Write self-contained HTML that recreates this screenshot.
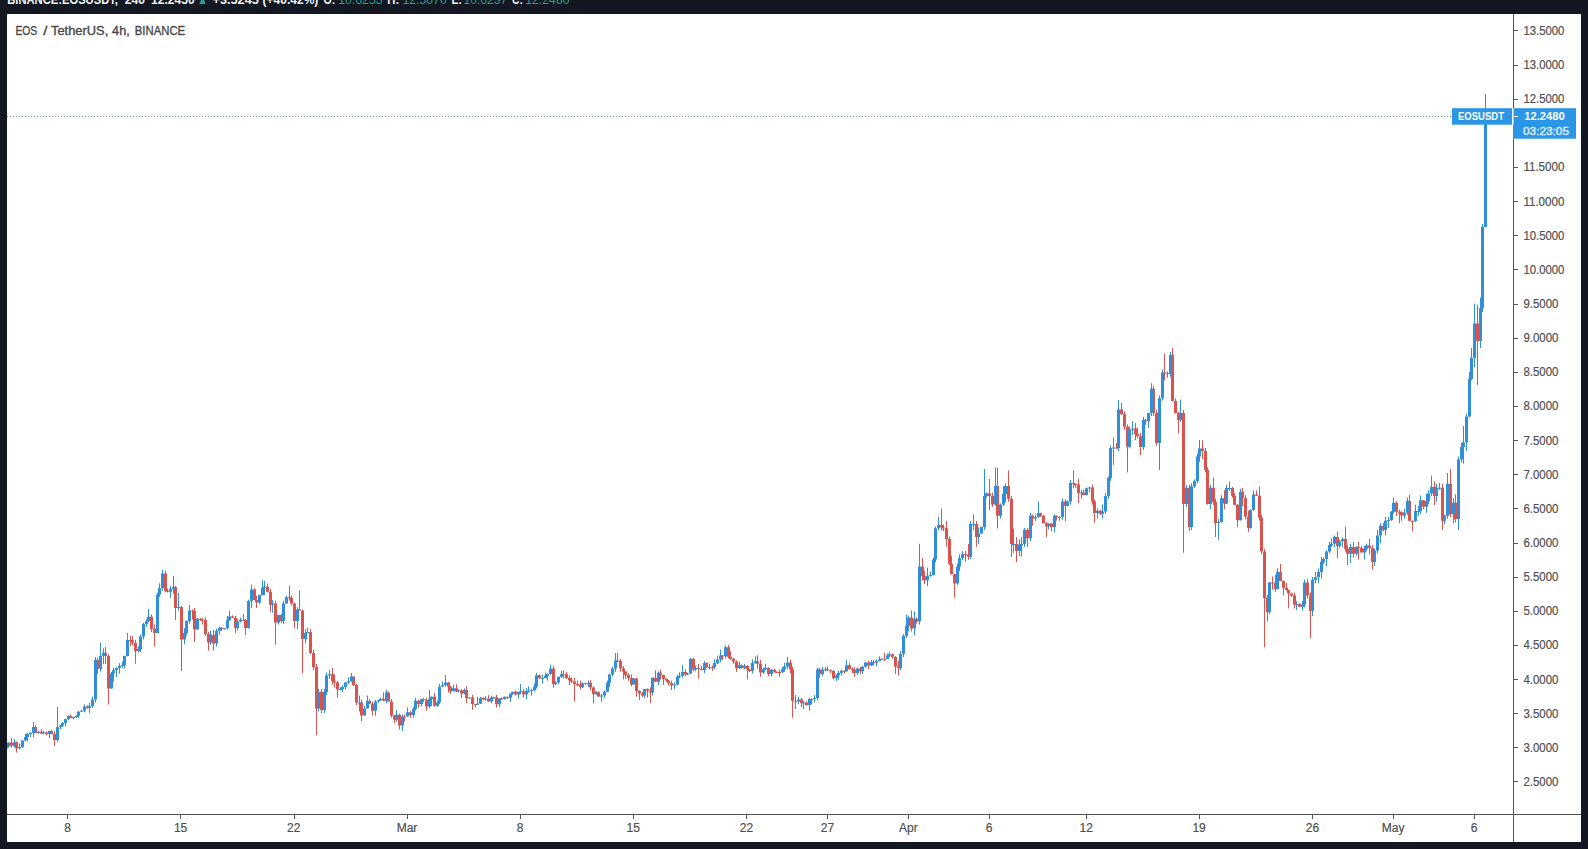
<!DOCTYPE html>
<html><head><meta charset="utf-8"><title>EOS / TetherUS, 4h, BINANCE</title>
<style>
html,body{margin:0;padding:0;background:#131722;width:1588px;height:849px;overflow:hidden}
svg{position:absolute;left:0;top:0;display:block}
text{font-family:"Liberation Sans",sans-serif}
.ax{font-size:12px;fill:#505050;stroke:#505050;stroke-width:0.2px}
.hd text{font-size:13px;font-weight:bold;fill:#f2f2f2}
.hd text.g{fill:#2f9c8e;font-weight:normal}
.ttl text{font-size:12px;fill:#4a4a4a;stroke:#4a4a4a;stroke-width:0.35px}
.lbl{font-size:11.8px;font-weight:bold;fill:#ffffff}
.tm{font-size:11.8px;fill:#dcecfa;stroke:#dcecfa;stroke-width:0.45px}
</style></head>
<body>
<svg width="1588" height="849" viewBox="0 0 1588 849">
<rect x="0" y="0" width="1588" height="849" fill="#131722"/>
<g class="hd">
<text x="7.2" y="4" textLength="110.8" lengthAdjust="spacingAndGlyphs">BINANCE:EOSUSDT,</text>
<text x="124.7" y="4" textLength="20.3" lengthAdjust="spacingAndGlyphs">240</text>
<text x="151" y="4" textLength="43.6" lengthAdjust="spacingAndGlyphs">12.2450</text>
<text x="197.2" y="4" class="g" textLength="10.6" lengthAdjust="spacingAndGlyphs">▲</text>
<text x="212.5" y="4" textLength="46.3" lengthAdjust="spacingAndGlyphs">+3.5245</text>
<text x="262.6" y="4" textLength="55.7" lengthAdjust="spacingAndGlyphs">(+40.42%)</text>
<text x="323.6" y="4" textLength="11.7" lengthAdjust="spacingAndGlyphs">O:</text>
<text x="338.2" y="4" class="g" textLength="44.4" lengthAdjust="spacingAndGlyphs">10.6255</text>
<text x="387.3" y="4" textLength="11.9" lengthAdjust="spacingAndGlyphs">H:</text>
<text x="402.4" y="4" class="g" textLength="44.4" lengthAdjust="spacingAndGlyphs">12.5070</text>
<text x="451.5" y="4" textLength="10.5" lengthAdjust="spacingAndGlyphs">L:</text>
<text x="463.4" y="4" class="g" textLength="43.9" lengthAdjust="spacingAndGlyphs">10.6237</text>
<text x="512" y="4" textLength="10.8" lengthAdjust="spacingAndGlyphs">C:</text>
<text x="525.2" y="4" class="g" textLength="44.4" lengthAdjust="spacingAndGlyphs">12.2480</text>
</g>
<rect x="7" y="14" width="1574" height="828" fill="#ffffff"/>
<g class="ttl">
<text x="15.4" y="34.6" textLength="21.8" lengthAdjust="spacingAndGlyphs">EOS</text>
<text x="43.2" y="34.6" textLength="4.2" lengthAdjust="spacingAndGlyphs">/</text>
<text x="51" y="34.6" textLength="57.3" lengthAdjust="spacingAndGlyphs">TetherUS,</text>
<text x="112.1" y="34.6" textLength="17.6" lengthAdjust="spacingAndGlyphs">4h,</text>
<text x="134.8" y="34.6" textLength="50.3" lengthAdjust="spacingAndGlyphs">BINANCE</text>
</g>
<!-- price line -->
<path d="M7 116.5H1452" stroke="#6b8aa6" stroke-width="1" stroke-dasharray="1 2" fill="none"/>
<!-- candles -->
<clipPath id="cp"><rect x="7" y="14" width="1506" height="800"/></clipPath>
<g clip-path="url(#cp)">
<path d="M11 738.0V747.7M16 741.4V752.6M35 725.2V733.5M41 729.1V734.1M46 731.3V735.4M51 729.8V734.4M54 731.2V746.0M70 714.5V718.1M87 705.4V708.9M97 657.9V673.8M105 647.0V664.0M108 654.2V704.5M130 635.8V646.1M132 636.2V645.3M135 639.8V663.7M151 614.3V632.0M154 624.4V646.4M165 570.5V592.1M167 588.7V592.5M175 585.8V620.0M181 606.0V671.0M192 609.3V619.6M194 608.0V642.0M200 618.0V621.0M202 617.8V624.5M205 617.4V636.1M208 631.8V650.7M213 630.0V650.7M221 627.2V631.1M232 615.4V617.9M235 615.8V633.0M243 614.0V620.7M245 618.9V635.0M254 587.9V600.1M256 595.9V608.0M267 583.5V592.5M270 588.8V612.0M275 600.6V644.8M281 613.9V623.1M289 586.0V600.6M291 595.5V605.5M294 602.6V628.0M299 590.6V610.7M302 609.6V673.0M310 629.0V653.8M313 650.0V670.0M316 664.0V735.5M321 689.0V713.0M332 668.0V684.7M334 674.4V687.7M337 680.9V697.8M353 676.6V686.0M356 683.7V705.0M361 699.5V721.0M369 699.2V704.1M372 701.5V715.6M383 692.5V701.3M388 691.7V701.6M391 699.0V717.6M394 714.8V723.0M399 713.6V729.6M404 714.4V721.7M410 710.9V717.8M418 699.6V707.6M423 698.2V701.9M426 697.6V710.8M434 692.9V706.8M448 681.8V692.5M450 686.0V693.9M456 684.3V692.0M461 688.8V698.1M466 686.2V703.0M472 694.9V709.9M475 703.9V707.3M483 697.4V700.5M488 695.2V701.9M496 694.9V707.4M501 697.2V699.9M507 696.6V699.1M515 690.6V695.5M523 689.1V697.5M539 674.4V678.9M553 666.0V687.6M563 670.3V678.5M566 671.8V679.0M569 675.4V685.0M571 677.6V683.3M574 677.9V701.6M577 680.6V686.4M580 680.6V689.5M585 682.9V684.7M590 680.1V690.5M593 686.5V703.3M598 691.6V696.7M617 653.0V662.2M620 658.8V671.6M623 665.9V679.4M625 671.1V679.1M628 673.0V680.8M631 674.4V686.2M636 677.6V696.7M639 690.2V700.0M642 692.1V697.2M647 688.4V697.7M650 687.4V703.3M655 670.3V682.1M660 669.6V679.7M663 674.7V684.9M666 678.5V682.2M668 679.7V685.7M671 680.6V690.0M685 669.6V676.2M693 658.1V671.5M698 664.0V678.5M701 665.9V670.3M706 662.3V667.5M712 665.5V670.8M722 655.0V660.3M728 645.0V658.5M730 651.3V660.0M733 657.9V663.7M736 660.3V672.0M741 664.3V668.2M747 665.5V679.4M749 668.9V672.0M757 655.4V668.6M760 659.9V676.7M768 667.4V676.2M774 668.7V672.6M776 671.4V673.1M779 669.4V676.7M790 659.6V673.2M792 666.6V717.7M795 695.0V709.0M801 697.8V707.1M806 701.4V705.6M819 668.0V677.7M827 666.5V671.3M830 669.3V673.1M833 670.1V679.4M844 670.4V673.6M849 662.9V669.6M852 667.1V672.9M854 667.4V676.7M860 666.9V674.2M868 660.6V669.1M873 659.8V665.2M884 652.7V661.2M892 653.2V658.6M895 656.1V673.9M898 660.9V675.3M911 610.6V631.5M916 617.3V623.7M922 558.0V580.4M924 570.6V584.1M941 508.5V530.6M943 524.7V531.0M946 521.0V546.6M949 536.4V565.0M951 556.0V574.4M954 573.6V597.7M965 550.8V561.9M968 544.0V559.9M976 521.0V546.8M989 479.0V510.0M992 492.5V506.9M997 467.6V528.4M1008 470.5V501.7M1011 495.7V556.7M1016 537.2V562.3M1027 528.0V546.8M1032 514.6V525.6M1040 512.7V516.9M1043 515.0V523.2M1046 521.8V536.9M1051 523.3V531.4M1056 515.5V520.5M1059 516.1V520.8M1065 499.2V521.3M1073 470.5V488.2M1075 483.3V487.8M1078 478.6V503.0M1083 489.5V495.2M1092 484.5V504.6M1094 499.5V522.8M1100 509.8V514.8M1116 443.1V448.6M1121 403.0V414.9M1124 411.3V429.7M1127 424.4V472.4M1135 423.0V440.2M1137 427.6V437.8M1140 432.8V455.0M1145 418.6V424.9M1153 385.8V416.0M1156 410.0V446.0M1164 353.5V380.5M1167 371.6V377.7M1172 348.0V401.2M1175 398.5V413.6M1178 411.6V433.5M1183 410.0V552.7M1189 484.7V531.0M1202 440.4V459.0M1205 448.0V472.4M1207 467.3V504.7M1213 477.6V505.0M1215 499.0V537.0M1224 490.3V509.3M1232 486.8V497.7M1234 493.1V505.3M1237 504.1V526.8M1242 488.0V506.3M1245 495.3V519.4M1248 510.6V532.0M1256 490.4V496.1M1259 486.6V520.7M1261 514.7V554.3M1264 548.9V647.3M1267 595.0V621.4M1272 576.5V589.8M1275 575.0V591.8M1280 564.0V581.1M1283 580.5V595.5M1286 582.8V590.6M1288 589.6V608.4M1291 592.6V596.9M1294 592.4V608.4M1299 603.0V606.8M1307 578.6V598.5M1310 592.5V638.0M1337 531.4V558.0M1345 526.6V551.6M1347 545.3V565.0M1353 541.9V557.6M1358 542.0V559.5M1361 546.2V552.5M1369 539.0V554.5M1372 545.0V569.5M1383 523.1V531.3M1396 501.3V516.0M1399 509.7V523.3M1401 511.1V520.8M1409 495.0V521.3M1412 520.6V531.5M1423 499.9V509.2M1434 481.3V505.0M1442 483.7V530.0M1450 468.9V517.2M1455 494.4V522.5M1477 304.7V384.8" stroke="#d9534f" stroke-width="1" fill="none" transform="translate(0.5 0)"/>
<path d="M6 746.4V749.5M8 742.5V747.7M14 739.2V747.2M19 743.4V749.5M22 740.3V747.9M25 734.0V741.4M27 733.5V741.3M30 732.3V736.8M33 722.0V737.1M38 730.7V733.9M43 731.1V734.4M49 730.6V738.0M57 707.0V741.9M60 725.1V729.3M62 722.0V727.0M65 718.9V726.2M68 715.4V720.1M73 716.5V719.2M76 715.4V718.2M78 711.1V718.2M81 710.0V712.1M84 704.4V712.4M89 702.9V712.9M92 696.6V707.9M95 657.0V702.6M100 642.7V671.7M103 648.3V664.0M111 671.8V688.7M113 667.7V681.6M116 667.5V677.0M119 663.2V673.7M122 661.7V667.8M124 655.6V668.5M127 632.8V656.3M138 646.3V652.5M140 634.4V652.0M143 622.9V639.5M146 618.8V627.1M148 608.7V622.2M157 592.7V633.2M159 583.3V596.8M162 569.8V591.0M170 586.1V597.9M173 576.0V593.7M178 593.0V610.6M184 628.2V644.3M186 620.5V635.6M189 605.0V623.7M197 617.8V629.5M210 630.6V644.8M216 628.6V646.6M219 626.7V634.9M224 628.2V629.7M227 615.9V629.8M229 610.6V620.7M237 619.3V630.5M240 617.5V622.5M248 599.7V628.7M251 584.7V608.3M259 594.9V604.0M262 580.0V595.5M264 580.9V595.3M272 600.2V612.8M278 614.5V624.6M283 600.6V624.0M286 595.8V603.7M297 607.3V629.0M305 629.3V643.3M307 628.0V633.2M318 689.0V711.4M324 689.0V713.0M326 672.4V695.0M329 669.5V679.1M340 687.2V690.5M342 685.2V692.1M345 682.2V689.7M348 677.1V684.2M351 673.0V681.8M359 695.6V711.5M364 705.6V715.6M367 695.5V708.6M375 699.9V715.9M378 699.7V702.8M380 697.7V700.5M386 690.0V703.5M396 710.1V721.8M402 714.3V731.0M407 707.3V716.7M413 707.1V717.7M415 697.9V710.5M421 698.8V706.4M429 690.0V708.3M431 696.6V706.0M437 700.5V707.0M439 683.8V704.3M442 681.5V687.1M445 675.0V686.7M453 685.0V691.4M458 689.3V692.4M464 688.4V694.3M469 697.3V698.6M477 696.7V704.9M480 697.0V703.8M485 696.2V700.7M491 696.0V703.5M493 696.6V698.9M499 698.3V707.2M504 696.5V699.5M510 693.6V702.0M512 691.8V695.2M518 691.8V698.4M520 684.0V694.3M526 688.1V699.3M528 686.3V692.6M531 688.7V695.6M534 683.4V691.7M536 672.8V688.5M542 674.7V683.7M545 672.6V678.4M547 673.4V680.5M550 664.7V674.7M555 681.2V685.1M558 676.6V684.0M561 670.6V678.2M582 682.3V688.0M588 680.5V687.1M596 691.0V694.9M601 693.8V701.6M604 690.6V697.8M607 680.6V692.0M609 673.5V687.1M612 666.7V676.4M615 653.0V672.2M633 678.1V685.1M644 688.9V698.3M652 677.6V695.5M658 671.4V685.1M674 682.3V689.0M677 674.8V685.6M679 672.2V678.2M682 665.3V677.5M687 672.7V675.3M690 658.2V674.0M695 665.5V671.3M704 660.9V673.2M709 663.8V669.4M714 659.2V669.3M717 655.7V664.4M720 649.7V662.4M725 645.5V658.5M739 661.6V668.9M744 663.9V669.4M752 659.4V673.6M755 656.3V663.7M763 667.5V673.8M765 663.7V669.7M771 668.8V676.5M782 666.9V673.2M784 662.7V671.8M787 656.9V669.4M798 696.6V704.2M803 701.3V709.0M809 698.1V710.7M811 698.3V704.4M814 695.2V702.5M817 667.6V700.4M822 667.0V675.7M825 666.8V671.3M836 674.3V681.0M838 670.9V679.8M841 669.6V675.5M846 659.9V671.7M857 667.6V675.1M862 666.0V673.9M865 662.3V667.8M871 659.9V666.1M876 659.4V666.2M879 656.3V661.5M881 658.3V659.9M887 653.6V659.1M889 651.7V657.0M900 651.0V670.0M903 634.2V657.0M906 614.5V638.1M908 615.6V631.2M914 611.4V635.5M919 543.8V624.6M927 567.7V586.2M930 571.6V576.6M933 557.6V575.5M935 526.6V562.4M938 517.0V530.2M957 563.6V585.1M959 554.4V570.9M962 551.3V560.2M970 521.0V559.0M973 514.3V530.4M978 527.4V544.2M981 526.6V533.9M984 469.0V530.0M986 492.6V497.8M995 467.6V505.9M1000 503.4V518.5M1003 486.1V506.2M1005 483.4V502.1M1013 528.4V553.0M1019 539.3V556.0M1021 536.9V556.7M1024 528.1V547.0M1030 512.7V541.3M1035 514.5V520.9M1038 501.6V517.8M1048 523.1V529.5M1054 514.3V532.4M1062 498.6V519.8M1067 500.3V506.2M1070 480.0V504.6M1081 489.7V498.7M1086 487.5V495.5M1089 486.6V492.3M1097 508.2V518.4M1102 504.4V518.6M1105 493.0V513.9M1108 476.4V499.0M1110 445.4V481.0M1113 437.5V464.8M1118 400.0V451.0M1129 426.4V448.3M1132 421.3V434.9M1143 417.0V450.0M1148 412.9V427.9M1151 383.3V416.0M1159 395.2V470.0M1162 369.5V400.6M1170 351.9V376.9M1180 399.6V421.9M1186 484.8V507.0M1191 483.3V530.0M1194 479.4V488.1M1197 453.5V483.4M1199 440.0V461.8M1210 485.0V509.0M1218 519.1V540.0M1221 495.3V522.4M1226 485.0V504.0M1229 481.5V490.8M1240 488.8V520.5M1250 509.3V528.7M1253 490.5V510.8M1269 582.2V614.3M1277 568.3V589.3M1296 601.4V610.0M1302 601.1V610.5M1304 579.5V607.3M1312 577.0V616.0M1315 572.0V583.4M1318 568.6V583.2M1321 557.0V578.8M1323 557.3V564.0M1326 550.4V566.3M1329 541.8V553.1M1331 538.5V547.0M1334 535.5V547.2M1339 540.2V548.0M1342 537.4V547.0M1350 543.9V563.0M1356 546.2V555.8M1364 545.9V559.5M1366 543.7V551.1M1374 548.6V566.0M1377 530.0V553.5M1380 523.3V543.4M1385 516.8V535.4M1388 516.9V528.0M1391 511.0V521.0M1393 497.6V513.5M1404 508.7V518.5M1407 497.7V514.8M1415 504.6V522.1M1418 506.0V515.8M1420 495.5V513.9M1426 493.6V512.9M1428 489.9V504.3M1431 475.5V496.1M1436 483.7V501.8M1439 483.0V489.8M1444 514.6V524.1M1447 473.0V518.9M1453 498.1V523.3M1458 456.5V530.0M1461 442.5V462.5M1463 426.0V463.7M1466 413.6V451.0M1469 372.0V417.6M1471 348.0V380.3M1474 303.6V367.0M1480 297.7V348.0M1482 224.0V312.0M1485 94.0V227.1" stroke="#2f8fd9" stroke-width="1" fill="none" transform="translate(0.5 0)"/>
<path d="M10 742.6h3V745.8h-3zM15 742.2h3V748.2h-3zM34 727.0h3V733.0h-3zM40 731.7h3V733.6h-3zM45 732.6h3V734.0h-3zM50 730.9h3V734.0h-3zM53 734.0h3V740.0h-3zM69 716.1h3V718.0h-3zM86 706.4h3V707.7h-3zM96 660.0h3V668.7h-3zM104 652.7h3V656.0h-3zM107 656.0h3V688.4h-3zM129 640.0h3V641.0h-3zM131 640.3h3V642.7h-3zM134 642.7h3V651.0h-3zM150 616.7h3V629.0h-3zM153 629.0h3V633.0h-3zM164 573.5h3V590.8h-3zM166 590.8h3V591.8h-3zM174 587.0h3V608.0h-3zM180 607.0h3V639.5h-3zM191 610.6h3V611.6h-3zM193 611.0h3V629.5h-3zM199 619.0h3V620.0h-3zM201 619.4h3V620.4h-3zM204 620.0h3V634.0h-3zM207 634.0h3V642.4h-3zM212 635.0h3V643.6h-3zM220 627.8h3V629.0h-3zM231 616.5h3V617.7h-3zM234 617.7h3V628.0h-3zM242 619.7h3V620.7h-3zM244 620.0h3V628.0h-3zM253 589.4h3V600.0h-3zM255 600.0h3V602.4h-3zM266 586.7h3V591.8h-3zM269 591.8h3V604.8h-3zM274 603.6h3V622.4h-3zM280 615.0h3V621.0h-3zM288 597.3h3V598.3h-3zM290 597.9h3V603.6h-3zM293 603.6h3V621.0h-3zM298 609.5h3V610.6h-3zM301 610.6h3V639.0h-3zM309 632.0h3V653.0h-3zM312 653.0h3V667.0h-3zM315 667.0h3V708.4h-3zM320 692.0h3V710.0h-3zM331 674.2h3V681.2h-3zM333 681.2h3V682.4h-3zM336 682.4h3V689.6h-3zM352 676.6h3V684.9h-3zM355 684.9h3V702.5h-3zM360 702.5h3V715.5h-3zM368 701.0h3V703.7h-3zM371 703.7h3V710.7h-3zM382 699.1h3V700.8h-3zM387 692.5h3V701.6h-3zM390 701.6h3V715.6h-3zM393 715.6h3V719.7h-3zM398 714.8h3V725.5h-3zM403 716.5h3V717.5h-3zM409 712.3h3V714.9h-3zM417 700.8h3V704.0h-3zM422 699.1h3V700.1h-3zM425 700.0h3V706.6h-3zM433 696.7h3V705.7h-3zM447 682.4h3V686.8h-3zM449 686.8h3V691.2h-3zM455 688.2h3V691.5h-3zM460 690.6h3V693.5h-3zM465 690.0h3V698.3h-3zM471 697.5h3V704.0h-3zM474 704.0h3V705.0h-3zM482 697.9h3V699.1h-3zM487 698.6h3V701.6h-3zM495 697.3h3V704.2h-3zM500 698.6h3V699.6h-3zM506 696.7h3V697.8h-3zM514 691.8h3V694.4h-3zM522 691.3h3V694.5h-3zM538 675.2h3V678.2h-3zM552 668.6h3V684.3h-3zM562 674.2h3V675.2h-3zM565 674.2h3V677.9h-3zM568 677.9h3V680.3h-3zM570 680.3h3V681.6h-3zM573 681.6h3V683.9h-3zM576 683.9h3V684.9h-3zM579 684.3h3V687.2h-3zM584 683.3h3V684.3h-3zM589 682.7h3V687.6h-3zM592 687.6h3V694.2h-3zM597 692.2h3V696.6h-3zM616 660.4h3V661.4h-3zM619 661.0h3V668.6h-3zM622 668.6h3V671.6h-3zM624 671.6h3V675.1h-3zM627 675.1h3V678.0h-3zM630 678.0h3V684.3h-3zM635 678.5h3V690.9h-3zM638 690.9h3V693.5h-3zM641 693.5h3V695.5h-3zM646 688.9h3V690.7h-3zM649 690.7h3V692.5h-3zM654 677.7h3V681.8h-3zM659 672.8h3V675.1h-3zM662 675.1h3V678.9h-3zM665 678.9h3V680.5h-3zM667 680.5h3V683.1h-3zM670 683.1h3V685.4h-3zM684 672.0h3V674.5h-3zM692 658.7h3V669.5h-3zM697 668.1h3V669.1h-3zM700 669.0h3V670.0h-3zM705 663.0h3V667.4h-3zM711 667.2h3V668.2h-3zM721 655.6h3V656.6h-3zM727 647.2h3V657.0h-3zM729 657.0h3V658.7h-3zM732 658.7h3V661.6h-3zM735 661.6h3V668.2h-3zM740 665.2h3V668.2h-3zM746 665.7h3V669.5h-3zM748 669.5h3V670.9h-3zM756 661.3h3V663.7h-3zM759 663.7h3V672.4h-3zM767 667.7h3V673.9h-3zM773 669.7h3V671.7h-3zM775 671.7h3V672.7h-3zM778 672.1h3V673.1h-3zM789 662.5h3V669.6h-3zM791 669.6h3V700.7h-3zM794 700.7h3V701.7h-3zM800 699.4h3V703.0h-3zM805 702.4h3V705.0h-3zM818 669.6h3V673.9h-3zM826 669.3h3V670.3h-3zM829 670.3h3V671.3h-3zM832 671.0h3V678.1h-3zM843 670.7h3V671.7h-3zM848 665.3h3V669.0h-3zM851 669.0h3V670.0h-3zM853 669.8h3V673.0h-3zM859 668.4h3V671.2h-3zM867 662.5h3V665.5h-3zM872 662.1h3V663.1h-3zM883 658.7h3V659.7h-3zM891 654.3h3V657.0h-3zM894 657.0h3V666.8h-3zM897 666.8h3V668.2h-3zM910 617.5h3V628.6h-3zM915 618.7h3V621.6h-3zM921 566.4h3V576.3h-3zM923 576.3h3V580.2h-3zM940 525.1h3V527.4h-3zM942 527.4h3V528.4h-3zM945 528.3h3V539.0h-3zM948 539.0h3V563.7h-3zM950 563.7h3V574.3h-3zM953 574.3h3V583.5h-3zM964 554.0h3V555.0h-3zM967 554.5h3V556.7h-3zM975 524.0h3V536.9h-3zM988 493.3h3V496.0h-3zM991 496.0h3V504.4h-3zM996 486.0h3V515.7h-3zM1007 486.0h3V498.7h-3zM1010 498.7h3V544.0h-3zM1015 544.0h3V551.0h-3zM1026 529.8h3V538.3h-3zM1031 515.7h3V518.6h-3zM1039 512.9h3V515.8h-3zM1042 515.8h3V523.2h-3zM1045 523.2h3V526.5h-3zM1050 523.4h3V527.0h-3zM1055 515.7h3V516.9h-3zM1058 516.9h3V517.9h-3zM1064 501.6h3V505.9h-3zM1072 483.0h3V484.0h-3zM1074 484.0h3V485.0h-3zM1077 484.6h3V493.0h-3zM1082 492.5h3V495.0h-3zM1091 487.4h3V501.6h-3zM1093 501.6h3V512.9h-3zM1099 510.9h3V513.8h-3zM1115 447.4h3V448.4h-3zM1120 409.4h3V414.3h-3zM1123 414.3h3V426.7h-3zM1126 426.7h3V446.7h-3zM1134 428.6h3V433.9h-3zM1136 433.9h3V436.2h-3zM1139 436.2h3V447.0h-3zM1144 420.0h3V421.3h-3zM1152 388.8h3V413.0h-3zM1155 413.0h3V443.0h-3zM1163 372.5h3V373.5h-3zM1166 373.2h3V374.2h-3zM1171 354.9h3V401.0h-3zM1174 401.0h3V413.0h-3zM1177 413.0h3V420.0h-3zM1182 413.0h3V504.0h-3zM1188 487.7h3V527.0h-3zM1201 448.4h3V451.0h-3zM1204 451.0h3V470.0h-3zM1206 470.0h3V504.0h-3zM1212 487.7h3V502.0h-3zM1214 502.0h3V523.0h-3zM1223 498.3h3V503.5h-3zM1231 488.0h3V495.7h-3zM1233 495.7h3V504.8h-3zM1236 504.8h3V520.3h-3zM1241 491.8h3V498.3h-3zM1244 498.3h3V516.4h-3zM1247 516.4h3V528.0h-3zM1255 494.4h3V495.7h-3zM1258 495.7h3V517.7h-3zM1260 517.7h3V551.4h-3zM1263 551.4h3V598.0h-3zM1266 598.0h3V612.0h-3zM1271 582.5h3V583.5h-3zM1274 583.0h3V589.0h-3zM1279 572.0h3V581.0h-3zM1282 581.0h3V587.7h-3zM1285 587.7h3V590.1h-3zM1287 590.1h3V593.4h-3zM1290 593.4h3V595.5h-3zM1293 595.5h3V604.6h-3zM1298 604.2h3V606.7h-3zM1306 582.5h3V595.5h-3zM1309 595.5h3V611.0h-3zM1336 537.0h3V546.0h-3zM1344 539.0h3V548.7h-3zM1346 548.7h3V553.8h-3zM1352 547.0h3V553.8h-3zM1357 547.0h3V548.0h-3zM1360 547.9h3V552.5h-3zM1368 545.4h3V548.0h-3zM1371 548.0h3V562.0h-3zM1382 525.8h3V530.0h-3zM1395 502.7h3V511.7h-3zM1398 511.7h3V512.7h-3zM1400 512.2h3V515.4h-3zM1408 501.0h3V520.8h-3zM1411 520.8h3V521.8h-3zM1422 500.2h3V506.8h-3zM1433 487.0h3V496.0h-3zM1441 487.8h3V520.8h-3zM1449 483.7h3V514.2h-3zM1454 502.7h3V519.0h-3zM1476 323.6h3V341.0h-3z" fill="#d9534f"/>
<path d="M5 746.5h3V748.5h-3zM7 742.6h3V746.5h-3zM13 742.2h3V745.8h-3zM18 746.9h3V748.2h-3zM21 740.4h3V746.9h-3zM24 737.0h3V740.4h-3zM26 733.6h3V737.0h-3zM29 733.0h3V734.0h-3zM32 727.0h3V733.0h-3zM37 731.7h3V733.0h-3zM42 732.6h3V733.6h-3zM48 730.9h3V734.0h-3zM56 727.0h3V740.0h-3zM59 725.6h3V727.0h-3zM61 723.1h3V725.6h-3zM64 719.0h3V723.1h-3zM67 716.1h3V719.0h-3zM72 717.1h3V718.1h-3zM75 715.8h3V717.1h-3zM77 711.8h3V715.8h-3zM80 710.8h3V711.8h-3zM83 706.4h3V710.8h-3zM88 706.0h3V707.7h-3zM91 699.6h3V706.0h-3zM94 660.0h3V699.6h-3zM99 656.0h3V668.7h-3zM102 652.7h3V656.0h-3zM110 673.6h3V688.4h-3zM112 670.2h3V673.6h-3zM115 667.9h3V670.2h-3zM118 666.1h3V667.9h-3zM121 665.0h3V666.1h-3zM123 656.0h3V665.0h-3zM126 640.0h3V656.0h-3zM137 649.0h3V651.0h-3zM139 636.5h3V649.0h-3zM142 624.0h3V636.5h-3zM145 621.3h3V624.0h-3zM147 616.7h3V621.3h-3zM156 594.5h3V633.0h-3zM158 588.0h3V594.5h-3zM161 573.5h3V588.0h-3zM169 588.7h3V591.8h-3zM172 587.0h3V588.7h-3zM177 607.0h3V608.0h-3zM183 633.0h3V639.5h-3zM185 621.0h3V633.0h-3zM188 610.6h3V621.0h-3zM196 619.0h3V629.5h-3zM209 635.0h3V642.4h-3zM215 630.7h3V643.6h-3zM218 627.8h3V630.7h-3zM223 628.3h3V629.3h-3zM226 620.3h3V628.3h-3zM228 616.5h3V620.3h-3zM236 621.4h3V628.0h-3zM239 619.7h3V621.4h-3zM247 601.0h3V628.0h-3zM250 589.4h3V601.0h-3zM258 595.0h3V602.4h-3zM261 588.0h3V595.0h-3zM263 586.7h3V588.0h-3zM271 603.6h3V604.8h-3zM277 615.0h3V622.4h-3zM282 603.6h3V621.0h-3zM285 597.3h3V603.6h-3zM296 609.5h3V621.0h-3zM304 633.0h3V639.0h-3zM306 632.0h3V633.0h-3zM317 692.0h3V708.4h-3zM323 692.0h3V710.0h-3zM325 675.4h3V692.0h-3zM328 674.2h3V675.4h-3zM339 689.0h3V690.0h-3zM341 686.9h3V689.0h-3zM344 682.4h3V686.9h-3zM347 681.2h3V682.4h-3zM350 676.6h3V681.2h-3zM358 702.5h3V703.5h-3zM363 708.4h3V715.5h-3zM366 701.0h3V708.4h-3zM374 701.6h3V710.7h-3zM377 700.2h3V701.6h-3zM379 699.1h3V700.2h-3zM385 692.5h3V700.8h-3zM395 714.8h3V719.7h-3zM401 716.5h3V725.5h-3zM406 712.3h3V716.6h-3zM412 709.0h3V714.9h-3zM414 700.8h3V709.0h-3zM420 699.1h3V704.0h-3zM428 699.0h3V706.6h-3zM430 696.7h3V699.0h-3zM436 702.4h3V705.7h-3zM438 686.8h3V702.4h-3zM441 685.3h3V686.8h-3zM444 682.4h3V685.3h-3zM452 688.2h3V691.2h-3zM457 690.6h3V691.6h-3zM463 690.0h3V693.5h-3zM468 697.5h3V698.5h-3zM476 703.8h3V704.8h-3zM479 697.9h3V703.8h-3zM484 698.6h3V699.6h-3zM490 697.4h3V701.6h-3zM492 697.3h3V698.3h-3zM498 698.6h3V704.2h-3zM503 696.7h3V699.3h-3zM509 693.7h3V697.8h-3zM511 691.8h3V693.7h-3zM517 692.1h3V694.4h-3zM519 691.3h3V692.3h-3zM525 690.9h3V694.5h-3zM527 690.7h3V691.7h-3zM530 690.2h3V691.2h-3zM533 686.8h3V690.2h-3zM535 675.2h3V686.8h-3zM541 678.0h3V679.0h-3zM544 675.7h3V678.0h-3zM546 673.9h3V675.7h-3zM549 668.6h3V673.9h-3zM554 682.5h3V684.3h-3zM557 676.7h3V682.5h-3zM560 674.2h3V676.7h-3zM581 683.3h3V687.2h-3zM587 682.7h3V684.1h-3zM595 692.2h3V694.2h-3zM600 695.5h3V696.6h-3zM603 691.7h3V695.5h-3zM606 682.7h3V691.7h-3zM608 674.4h3V682.7h-3zM611 668.6h3V674.4h-3zM614 660.4h3V668.6h-3zM632 678.5h3V684.3h-3zM643 688.9h3V695.5h-3zM651 677.7h3V692.5h-3zM657 672.8h3V681.8h-3zM673 684.4h3V685.4h-3zM676 676.7h3V684.4h-3zM678 675.8h3V676.8h-3zM681 672.0h3V675.8h-3zM686 673.6h3V674.6h-3zM689 658.7h3V673.6h-3zM694 668.1h3V669.5h-3zM703 663.0h3V670.0h-3zM708 667.2h3V668.2h-3zM713 663.0h3V667.2h-3zM716 659.6h3V663.0h-3zM719 655.6h3V659.6h-3zM724 647.2h3V656.3h-3zM738 665.2h3V668.2h-3zM743 665.7h3V668.2h-3zM751 663.1h3V670.9h-3zM754 661.3h3V663.1h-3zM762 669.3h3V672.4h-3zM764 667.7h3V669.3h-3zM770 669.7h3V673.9h-3zM781 669.2h3V672.3h-3zM783 666.5h3V669.2h-3zM786 662.5h3V666.5h-3zM797 699.4h3V701.5h-3zM802 702.4h3V703.4h-3zM808 699.1h3V705.0h-3zM810 699.0h3V700.0h-3zM813 697.9h3V699.0h-3zM816 669.6h3V697.9h-3zM821 669.6h3V673.9h-3zM824 669.3h3V670.3h-3zM835 675.6h3V678.1h-3zM837 673.0h3V675.6h-3zM840 670.7h3V673.0h-3zM845 665.3h3V671.3h-3zM856 668.4h3V673.0h-3zM861 666.7h3V671.2h-3zM864 662.5h3V666.7h-3zM870 662.1h3V665.5h-3zM875 661.1h3V662.8h-3zM878 659.5h3V661.1h-3zM880 658.7h3V659.7h-3zM886 655.6h3V658.9h-3zM888 654.3h3V655.6h-3zM899 654.0h3V668.2h-3zM902 635.7h3V654.0h-3zM905 625.8h3V635.7h-3zM907 617.5h3V625.8h-3zM913 618.7h3V628.6h-3zM918 566.4h3V621.6h-3zM926 575.7h3V580.2h-3zM929 574.9h3V575.9h-3zM932 559.4h3V574.9h-3zM934 528.3h3V559.4h-3zM937 525.1h3V528.3h-3zM956 566.6h3V583.5h-3zM958 558.0h3V566.6h-3zM961 554.0h3V558.0h-3zM969 524.0h3V556.7h-3zM972 524.0h3V525.0h-3zM977 533.4h3V536.9h-3zM980 527.0h3V533.4h-3zM983 496.0h3V527.0h-3zM985 493.3h3V496.0h-3zM994 486.0h3V504.4h-3zM999 504.4h3V515.7h-3zM1002 494.1h3V504.4h-3zM1004 486.0h3V494.1h-3zM1012 544.0h3V545.0h-3zM1018 544.6h3V551.0h-3zM1020 544.0h3V545.0h-3zM1023 529.8h3V544.0h-3zM1029 515.7h3V538.3h-3zM1034 517.0h3V518.6h-3zM1037 512.9h3V517.0h-3zM1047 523.4h3V526.5h-3zM1053 515.7h3V527.0h-3zM1061 501.6h3V517.0h-3zM1066 501.6h3V505.9h-3zM1069 483.0h3V501.6h-3zM1080 492.5h3V493.5h-3zM1085 488.2h3V495.0h-3zM1088 487.4h3V488.4h-3zM1096 510.9h3V512.9h-3zM1101 511.4h3V513.8h-3zM1104 496.0h3V511.4h-3zM1107 478.0h3V496.0h-3zM1109 448.0h3V478.0h-3zM1112 447.4h3V448.4h-3zM1117 409.4h3V448.0h-3zM1128 429.4h3V446.7h-3zM1131 428.6h3V429.6h-3zM1142 420.0h3V447.0h-3zM1147 413.0h3V421.3h-3zM1150 388.8h3V413.0h-3zM1158 398.2h3V443.0h-3zM1161 372.5h3V398.2h-3zM1169 354.9h3V373.9h-3zM1179 413.0h3V420.0h-3zM1185 487.7h3V504.0h-3zM1190 486.3h3V527.0h-3zM1193 481.0h3V486.3h-3zM1196 456.5h3V481.0h-3zM1198 448.4h3V456.5h-3zM1209 487.7h3V504.0h-3zM1217 522.0h3V523.0h-3zM1220 498.3h3V522.0h-3zM1225 488.0h3V503.5h-3zM1228 488.0h3V489.0h-3zM1239 491.8h3V520.3h-3zM1249 510.0h3V528.0h-3zM1252 494.4h3V510.0h-3zM1268 582.5h3V612.0h-3zM1276 572.0h3V589.0h-3zM1295 604.2h3V605.2h-3zM1301 604.6h3V606.7h-3zM1303 582.5h3V604.6h-3zM1311 580.0h3V611.0h-3zM1314 577.2h3V580.0h-3zM1317 572.0h3V577.2h-3zM1320 561.8h3V572.0h-3zM1322 559.0h3V561.8h-3zM1325 551.4h3V559.0h-3zM1328 545.0h3V551.4h-3zM1330 543.7h3V545.0h-3zM1333 537.0h3V543.7h-3zM1338 541.0h3V546.0h-3zM1341 539.0h3V541.0h-3zM1349 547.0h3V553.8h-3zM1355 547.0h3V553.8h-3zM1363 548.8h3V552.5h-3zM1365 545.4h3V548.8h-3zM1373 550.5h3V562.0h-3zM1376 535.6h3V550.5h-3zM1379 525.8h3V535.6h-3zM1384 520.8h3V530.0h-3zM1387 520.0h3V521.0h-3zM1390 511.7h3V520.0h-3zM1392 502.7h3V511.7h-3zM1403 512.6h3V515.4h-3zM1406 501.0h3V512.6h-3zM1414 511.0h3V521.0h-3zM1417 511.0h3V512.0h-3zM1419 500.2h3V511.0h-3zM1425 501.0h3V506.8h-3zM1427 493.6h3V501.0h-3zM1430 487.0h3V493.6h-3zM1435 487.8h3V496.0h-3zM1438 487.8h3V488.8h-3zM1443 515.9h3V520.8h-3zM1446 483.7h3V515.9h-3zM1452 502.7h3V514.2h-3zM1457 459.5h3V519.0h-3zM1460 447.0h3V459.5h-3zM1462 442.5h3V447.0h-3zM1465 416.6h3V442.5h-3zM1468 379.0h3V416.6h-3zM1470 357.7h3V379.0h-3zM1473 323.6h3V357.7h-3zM1479 308.0h3V341.0h-3zM1481 227.0h3V308.0h-3zM1484 116.5h3V227.0h-3z" fill="#2f8fd9"/>
</g>
<!-- axes -->
<rect x="1513" y="14" width="1" height="828" fill="#555555"/>
<rect x="7" y="814" width="1574" height="1" fill="#555555"/>
<rect x="1514" y="30" width="4" height="1" fill="#555555"/>
<text x="1523.4" y="34.9" class="ax" textLength="41" lengthAdjust="spacingAndGlyphs">13.5000</text>
<rect x="1514" y="65" width="4" height="1" fill="#555555"/>
<text x="1523.4" y="69.0" class="ax" textLength="41" lengthAdjust="spacingAndGlyphs">13.0000</text>
<rect x="1514" y="99" width="4" height="1" fill="#555555"/>
<text x="1523.4" y="103.2" class="ax" textLength="41" lengthAdjust="spacingAndGlyphs">12.5000</text>
<rect x="1514" y="133" width="4" height="1" fill="#555555"/>
<rect x="1514" y="167" width="4" height="1" fill="#555555"/>
<text x="1523.4" y="171.4" class="ax" textLength="41" lengthAdjust="spacingAndGlyphs">11.5000</text>
<rect x="1514" y="201" width="4" height="1" fill="#555555"/>
<text x="1523.4" y="205.6" class="ax" textLength="41" lengthAdjust="spacingAndGlyphs">11.0000</text>
<rect x="1514" y="235" width="4" height="1" fill="#555555"/>
<text x="1523.4" y="239.7" class="ax" textLength="41" lengthAdjust="spacingAndGlyphs">10.5000</text>
<rect x="1514" y="269" width="4" height="1" fill="#555555"/>
<text x="1523.4" y="273.9" class="ax" textLength="41" lengthAdjust="spacingAndGlyphs">10.0000</text>
<rect x="1514" y="304" width="4" height="1" fill="#555555"/>
<text x="1523.4" y="308.0" class="ax" textLength="35" lengthAdjust="spacingAndGlyphs">9.5000</text>
<rect x="1514" y="338" width="4" height="1" fill="#555555"/>
<text x="1523.4" y="342.1" class="ax" textLength="35" lengthAdjust="spacingAndGlyphs">9.0000</text>
<rect x="1514" y="372" width="4" height="1" fill="#555555"/>
<text x="1523.4" y="376.3" class="ax" textLength="35" lengthAdjust="spacingAndGlyphs">8.5000</text>
<rect x="1514" y="406" width="4" height="1" fill="#555555"/>
<text x="1523.4" y="410.4" class="ax" textLength="35" lengthAdjust="spacingAndGlyphs">8.0000</text>
<rect x="1514" y="440" width="4" height="1" fill="#555555"/>
<text x="1523.4" y="444.5" class="ax" textLength="35" lengthAdjust="spacingAndGlyphs">7.5000</text>
<rect x="1514" y="474" width="4" height="1" fill="#555555"/>
<text x="1523.4" y="478.7" class="ax" textLength="35" lengthAdjust="spacingAndGlyphs">7.0000</text>
<rect x="1514" y="508" width="4" height="1" fill="#555555"/>
<text x="1523.4" y="512.8" class="ax" textLength="35" lengthAdjust="spacingAndGlyphs">6.5000</text>
<rect x="1514" y="543" width="4" height="1" fill="#555555"/>
<text x="1523.4" y="546.9" class="ax" textLength="35" lengthAdjust="spacingAndGlyphs">6.0000</text>
<rect x="1514" y="577" width="4" height="1" fill="#555555"/>
<text x="1523.4" y="581.1" class="ax" textLength="35" lengthAdjust="spacingAndGlyphs">5.5000</text>
<rect x="1514" y="611" width="4" height="1" fill="#555555"/>
<text x="1523.4" y="615.2" class="ax" textLength="35" lengthAdjust="spacingAndGlyphs">5.0000</text>
<rect x="1514" y="645" width="4" height="1" fill="#555555"/>
<text x="1523.4" y="649.3" class="ax" textLength="35" lengthAdjust="spacingAndGlyphs">4.5000</text>
<rect x="1514" y="679" width="4" height="1" fill="#555555"/>
<text x="1523.4" y="683.5" class="ax" textLength="35" lengthAdjust="spacingAndGlyphs">4.0000</text>
<rect x="1514" y="713" width="4" height="1" fill="#555555"/>
<text x="1523.4" y="717.6" class="ax" textLength="35" lengthAdjust="spacingAndGlyphs">3.5000</text>
<rect x="1514" y="747" width="4" height="1" fill="#555555"/>
<text x="1523.4" y="751.8" class="ax" textLength="35" lengthAdjust="spacingAndGlyphs">3.0000</text>
<rect x="1514" y="781" width="4" height="1" fill="#555555"/>
<text x="1523.4" y="785.9" class="ax" textLength="35" lengthAdjust="spacingAndGlyphs">2.5000</text>
<rect x="67" y="815" width="1" height="4" fill="#555555"/>
<text x="67.6" y="831.8" class="ax" text-anchor="middle">8</text>
<rect x="180" y="815" width="1" height="4" fill="#555555"/>
<text x="180.6" y="831.8" class="ax" text-anchor="middle">15</text>
<rect x="294" y="815" width="1" height="4" fill="#555555"/>
<text x="293.7" y="831.8" class="ax" text-anchor="middle">22</text>
<rect x="407" y="815" width="1" height="4" fill="#555555"/>
<text x="407.0" y="831.8" class="ax" text-anchor="middle">Mar</text>
<rect x="520" y="815" width="1" height="4" fill="#555555"/>
<text x="520.0" y="831.8" class="ax" text-anchor="middle">8</text>
<rect x="633" y="815" width="1" height="4" fill="#555555"/>
<text x="633.2" y="831.8" class="ax" text-anchor="middle">15</text>
<rect x="746" y="815" width="1" height="4" fill="#555555"/>
<text x="746.4" y="831.8" class="ax" text-anchor="middle">22</text>
<rect x="827" y="815" width="1" height="4" fill="#555555"/>
<text x="827.5" y="831.8" class="ax" text-anchor="middle">27</text>
<rect x="908" y="815" width="1" height="4" fill="#555555"/>
<text x="908.3" y="831.8" class="ax" text-anchor="middle">Apr</text>
<rect x="989" y="815" width="1" height="4" fill="#555555"/>
<text x="989.1" y="831.8" class="ax" text-anchor="middle">6</text>
<rect x="1086" y="815" width="1" height="4" fill="#555555"/>
<text x="1086.2" y="831.8" class="ax" text-anchor="middle">12</text>
<rect x="1199" y="815" width="1" height="4" fill="#555555"/>
<text x="1199.1" y="831.8" class="ax" text-anchor="middle">19</text>
<rect x="1312" y="815" width="1" height="4" fill="#555555"/>
<text x="1312.4" y="831.8" class="ax" text-anchor="middle">26</text>
<rect x="1393" y="815" width="1" height="4" fill="#555555"/>
<text x="1393.1" y="831.8" class="ax" text-anchor="middle">May</text>
<rect x="1474" y="815" width="1" height="4" fill="#555555"/>
<text x="1474.2" y="831.8" class="ax" text-anchor="middle">6</text>
<!-- labels -->
<rect x="1452" y="108.2" width="60" height="16.5" fill="#2c96e6"/>
<text x="1458" y="120.3" class="lbl" textLength="46" lengthAdjust="spacingAndGlyphs">EOSUSDT</text>
<rect x="1513" y="108.2" width="63" height="30.5" fill="#2c96e6"/>
<rect x="1513" y="108.2" width="0.6" height="16.5" fill="#e6f3fd"/>
<rect x="1514" y="116" width="4" height="1" fill="#ffffff"/>
<text x="1524.2" y="120.2" class="lbl" textLength="40.5" lengthAdjust="spacingAndGlyphs">12.2480</text>
<text x="1523" y="135" class="tm" textLength="46" lengthAdjust="spacingAndGlyphs">03:23:05</text>
</svg>
</body></html>
